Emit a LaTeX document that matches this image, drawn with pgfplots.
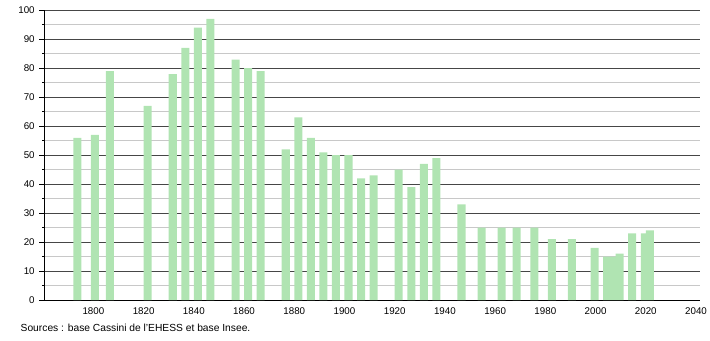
\documentclass[border=0pt]{standalone}
\usepackage{pgfplots}
\pgfplotsset{compat=1.18}
\usepackage{fontspec}
\setmainfont{Liberation Sans}
\definecolor{bargreen}{RGB}{176,228,178}
\definecolor{majgrid}{RGB}{70,70,70}
\definecolor{mingrid}{RGB}{200,200,200}
\begin{document}
\begin{tikzpicture}[x=1bp,y=1bp]
\path[use as bounding box] (0,0) rectangle (710,340);
\begin{axis}[
  at={(44.7bp,40bp)}, anchor=south west,
  width=655.3bp, height=289.7bp, scale only axis=true,
  xmin=1780, xmax=2041, ymin=0, ymax=100,
  axis x line=bottom, axis y line=left,
  axis line style={-, black, line width=0.9bp},
  xtick={1800,1820,...,2040},
  xticklabels={1800,1820,1840,1860,1880,1900,1920,1940,1960,1980,2000,2020,2040},
  xtick style={draw=none},
  ytick={0,10,...,100},
  minor y tick num=1,
  tick align=outside,
  major tick length=5.5bp, minor tick length=2.5bp,
  ytick style={black, line width=0.8bp},
  minor tick style={black, line width=0.6bp},
  ymajorgrids=true, yminorgrids=true,
  major grid style={majgrid, line width=0.8bp},
  minor grid style={mingrid, line width=0.7bp},
  tick label style={font=\fontsize{9.8}{11}\selectfont},
  /pgf/number format/assume math mode=true,
  /pgf/number format/1000 sep={},
  xticklabel style={xshift=-1.5bp, yshift=1bp},
  yticklabel style={xshift=-1bp},
  clip=false,
]
\addplot[ybar, bar width=3.2, bar shift=0pt, draw=none, fill=bargreen] coordinates {
(1793,56) (1800,57) (1806,79) (1821,67) (1831,78) (1836,87) (1841,94) (1846,97)
(1856,83) (1861,80) (1866,79) (1876,52) (1881,63) (1886,56) (1891,51) (1896,50)
(1901,50) (1906,42) (1911,43) (1921,45) (1926,39) (1931,47) (1936,49) (1946,33)
(1954,25) (1962,25) (1968,25) (1975,25) (1982,21) (1990,21) (1999,18) (2004,15)
(2006,15) (2009,16) (2014,23) (2019,23) (2021,24)
};
\end{axis}
\node[anchor=west, inner sep=0pt, font=\fontsize{10.3}{12}\selectfont] at (20.5,12) {Sources : base Cassini de l'EHESS et base Insee.};
\end{tikzpicture}
\end{document}
